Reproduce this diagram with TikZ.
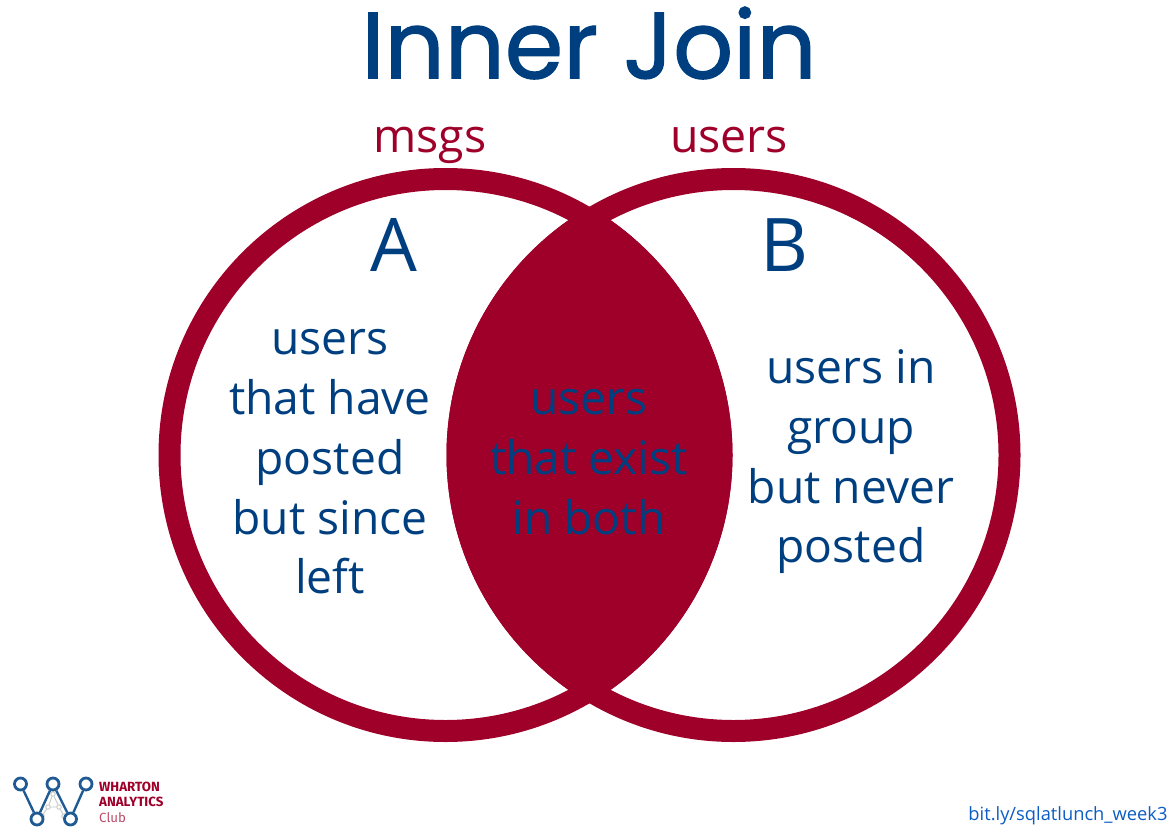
\documentclass[tikz,border=0pt]{standalone}
\usepackage{fontspec}
\setmainfont{Open Sans}
\newfontfamily\titlefont[FakeBold=1.3]{Poppins}
\newfontfamily\logofont{Fira Sans}
\definecolor{joinred}{HTML}{9E0029}
\definecolor{joinblue}{HTML}{003F7F}
\definecolor{linkblue}{HTML}{0B5CC4}
\definecolor{logoblue}{HTML}{1F5A92}
\definecolor{logogray}{HTML}{C4C8C8}
\tikzset{
  label/.style={text=joinblue, font=\fontsize{46.2}{59.7}\selectfont, align=center},
  setname/.style={text=joinred, font=\fontsize{46.5}{50}\selectfont},
  letter/.style={text=joinblue, font=\fontsize{74}{80}\selectfont},
  ring/.style={draw=joinred, line width=22pt},
  dot/.style={circle, draw=logoblue, fill=white, line width=2.8pt, minimum size=12pt, inner sep=0pt},
  minidot/.style={circle, draw=logogray, fill=white, line width=0.9pt, minimum size=4.5pt, inner sep=0pt},
  logotext/.style={text=joinred, font=\logofont\bfseries\fontsize{13.3}{15}\selectfont, anchor=west, inner sep=0pt}
}
\begin{document}
\begin{tikzpicture}[x=1pt, y=-1pt]
\useasboundingbox (0,0) rectangle (1175,835);
% overlap of both sets
\begin{scope}
\clip (445.5,455) circle[radius=287];
\fill[joinred] (733.5,455) circle[radius=287];
\end{scope}
\draw[ring] (445.5,455) circle[radius=276];
\draw[ring] (733.5,455) circle[radius=276];
\node[text=joinblue, font=\titlefont\fontsize{94}{100}\selectfont] (title) at (589,43) {Inner Join};
\node[setname] (msgs) at (430,145) {msgs};
\node[setname] (users) at (729,140) {users};
\node[letter] (setA) at (394,245) {A};
\node[letter] (setB) at (784,245) {B};
\node[label] (onlyA) at (330,462) {users\\that have\\posted\\but since\\left};
\node[label] (both) at (589,462) {users\\that exist\\in both};
\node[label] (onlyB) at (851,462) {users in\\group\\but never\\posted};
\node[text=linkblue, font=\fontsize{18.3}{20}\selectfont, anchor=east] (link) at (1171,816) {bit.ly/sqlatlunch\_week3};
% logo
\node[minidot] (a1) at (53,794) {};
\node[minidot] (a2) at (48,807) {};
\node[minidot] (a3) at (59,807) {};
\node[minidot] (a4) at (42,816) {};
\node[minidot] (a5) at (64,816) {};
\draw[logogray, line width=0.9pt] (a4) -- (a2) -- (a1) -- (a3) -- (a5) (a2) -- (a3);
\node[dot] (w1) at (20.5,784) {};
\node[dot] (w2) at (37,819) {};
\node[dot] (w3) at (53,784) {};
\node[dot] (w4) at (70.5,819) {};
\node[dot] (w5) at (86,784) {};
\draw[logoblue, line width=2.4pt] (w1) -- (w2) -- (w3) -- (w4) -- (w5);
\node[logotext] (wharton) at (99,787) {WHARTON};
\node[logotext] (analytics) at (99,802) {ANALYTICS};
\node[logotext, font=\logofont\fontsize{13.3}{15}\selectfont, text=joinred!70] (club) at (99,818) {Club};
\end{tikzpicture}
\end{document}
